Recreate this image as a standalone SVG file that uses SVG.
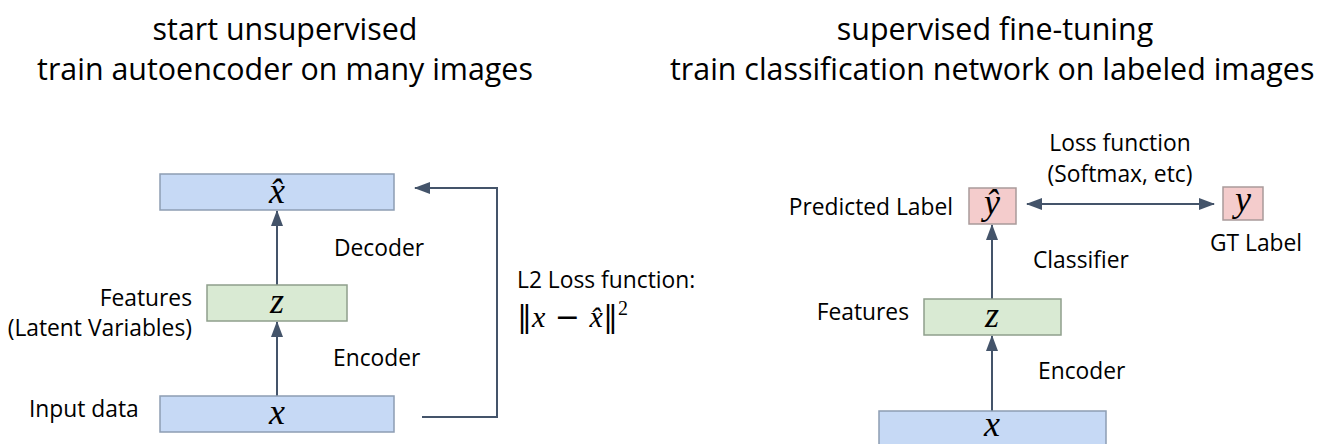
<svg xmlns="http://www.w3.org/2000/svg" width="1317" height="444" viewBox="0 0 1317 444">
<style>
.t{font-family:"Open Sans","Liberation Sans",sans-serif;fill:#000}
.title{font-size:30.4px}
.lbl{font-size:22.8px}
.m{font-family:"Liberation Serif","DejaVu Serif",serif;font-style:italic;fill:#000;font-size:36px}
.blue{fill:#c6d9f5;stroke:#8d9db3;stroke-width:1.5}
.green{fill:#d9ead3;stroke:#8f9f8c;stroke-width:1.5}
.pink{fill:#f4cccc;stroke:#a99a9a;stroke-width:1.5}
.c{fill:none;stroke:#44546a;stroke-width:2}
</style>
<defs>
<marker id="ah2" viewBox="0 0 16 12" refX="15" refY="6" markerWidth="16" markerHeight="12" markerUnits="userSpaceOnUse" orient="auto-start-reverse">
<path d="M0,0 L16,6 L0,12 z" fill="#44546a"/>
</marker>
</defs>
<rect width="1317" height="444" fill="#fff"/>
<g id="titles">
<text class="t title" x="285" y="40" text-anchor="middle">start unsupervised</text>
<text class="t title" x="285" y="80" text-anchor="middle">train autoencoder on many images</text>
<text class="t title" x="995" y="40" text-anchor="middle">supervised fine-tuning</text>
<text class="t title" x="670" y="80">train classification network on labeled images</text>
</g>
<g id="connectors">
<line class="c" x1="277" y1="285" x2="277" y2="211" marker-end="url(#ah2)"/>
<line class="c" x1="277" y1="396" x2="277" y2="322" marker-end="url(#ah2)"/>
<polyline class="c" points="422,417 497,417 497,188 415,188" marker-end="url(#ah2)"/>
<line class="c" x1="992" y1="299" x2="992" y2="225" marker-end="url(#ah2)"/>
<line class="c" x1="992" y1="411" x2="992" y2="336" marker-end="url(#ah2)"/>
<line class="c" x1="1027" y1="204" x2="1214" y2="204" marker-start="url(#ah2)" marker-end="url(#ah2)"/>
</g>
<g id="xhat-left">
<rect class="blue" x="160" y="174" width="234" height="36"/>
<text class="m" x="277" y="203" text-anchor="middle">x̂</text>
</g>
<g id="z-left">
<rect class="green" x="207" y="285" width="140" height="36"/>
<text class="m" x="277" y="313" text-anchor="middle">z</text>
</g>
<g id="x-left">
<rect class="blue" x="160" y="396" width="234" height="36"/>
<text class="m" x="277" y="424" text-anchor="middle">x</text>
</g>
<g id="labels-left">
<text class="t lbl" x="334" y="256">Decoder</text>
<text class="t lbl" x="333" y="366">Encoder</text>
<text class="t lbl" x="192" y="306" text-anchor="end">Features</text>
<text class="t lbl" x="192" y="336" text-anchor="end">(Latent Variables)</text>
<text class="t lbl" x="29" y="417">Input data</text>
<text class="t lbl" x="517" y="288">L2 Loss function:</text>
<text x="517" y="327" font-family="DejaVu Serif,Liberation Serif,serif" font-size="30" fill="#000">‖<tspan font-family="Liberation Serif,serif" font-style="italic">x</tspan> − <tspan font-family="Liberation Serif,serif" font-style="italic">x̂</tspan>‖<tspan font-family="Liberation Serif,serif" font-size="20" dy="-12">2</tspan></text>
</g>
<g id="yhat">
<rect class="pink" x="969" y="188" width="47" height="36"/>
<text class="m" x="992" y="214" text-anchor="middle">ŷ</text>
</g>
<g id="y-gt">
<rect class="pink" x="1223" y="187" width="40" height="33"/>
<text class="m" x="1243" y="211" text-anchor="middle">y</text>
</g>
<g id="z-right">
<rect class="green" x="924" y="299" width="137" height="36"/>
<text class="m" x="992" y="327" text-anchor="middle">z</text>
</g>
<g id="x-right">
<rect class="blue" x="879" y="411" width="227" height="40"/>
<text class="m" x="992" y="436" text-anchor="middle">x</text>
</g>
<g id="labels-right">
<text class="t lbl" x="1120" y="151" text-anchor="middle">Loss function</text>
<text class="t lbl" x="1120" y="182" text-anchor="middle">(Softmax, etc)</text>
<text class="t lbl" x="953" y="215" text-anchor="end">Predicted Label</text>
<text class="t lbl" x="1210" y="251">GT Label</text>
<text class="t lbl" x="1033" y="268">Classifier</text>
<text class="t lbl" x="909" y="320" text-anchor="end">Features</text>
<text class="t lbl" x="1038" y="379">Encoder</text>
</g>
</svg>
